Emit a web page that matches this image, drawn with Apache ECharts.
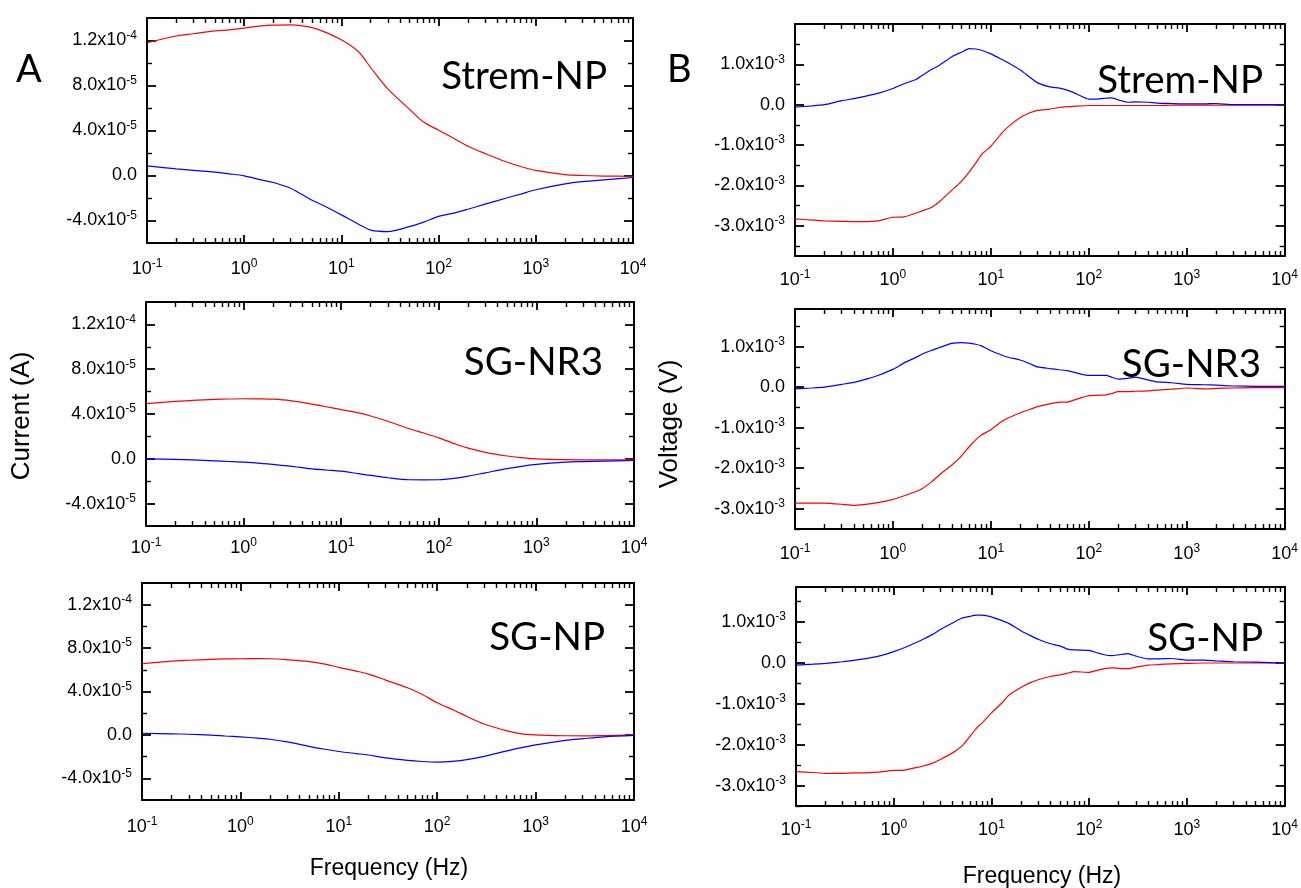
<!DOCTYPE html>
<html><head><meta charset="utf-8">
<script src="https://cdn.jsdelivr.net/npm/echarts@6/dist/echarts.min.js"></script>
<style>html,body{margin:0;padding:0;background:#fff;}#c{width:1301px;height:888px;}</style>
</head><body><div id="c"></div>
<script>
// ---------- DATA ----------
// Frequency (Hz) grid for panel A (current)
const freqA = [0.1,0.2,0.3,0.5,0.7,1,1.5,2,3,5,7,10,15,20,30,50,70,100,150,200,300,500,700,1000,2000,3000,5000,10000];
// Current values in units of 1e-5 A
const a1Red  = [11.8,12.4,12.6,12.85,12.95,13.1,13.3,13.37,13.39,13.15,12.7,12.06,11.0,9.6,7.7,5.9,4.75,4.03,3.2,2.6,1.95,1.2,0.8,0.45,0.08,0.0,-0.05,-0.07];
const a1Blue = [0.86,0.59,0.45,0.3,0.15,-0.03,-0.39,-0.62,-1.13,-2.2,-2.8,-3.5,-4.33,-4.85,-4.98,-4.55,-4.15,-3.64,-3.3,-3.0,-2.55,-2.0,-1.65,-1.27,-0.75,-0.55,-0.39,-0.18];
const a2Red  = [4.92,5.12,5.22,5.3,5.34,5.36,5.35,5.32,5.19,4.88,4.65,4.39,4.1,3.82,3.35,2.68,2.3,1.87,1.3,0.95,0.58,0.25,0.1,0,-0.08,-0.09,-0.09,-0.09];
const a2Blue = [0,-0.05,-0.1,-0.18,-0.24,-0.3,-0.4,-0.5,-0.65,-0.9,-1.0,-1.1,-1.33,-1.48,-1.69,-1.87,-1.88,-1.87,-1.72,-1.55,-1.25,-0.88,-0.68,-0.5,-0.3,-0.25,-0.2,-0.15];
const a3Red  = [6.56,6.8,6.88,6.96,7.0,7.02,7.03,7.02,6.92,6.75,6.55,6.23,5.88,5.6,5.05,4.35,3.75,2.96,2.25,1.7,1.0,0.4,0.12,0,-0.08,-0.09,-0.06,0];
const a3Blue = [0.15,0.1,0.06,-0.02,-0.1,-0.18,-0.3,-0.4,-0.65,-1.05,-1.3,-1.53,-1.72,-1.85,-2.12,-2.35,-2.45,-2.5,-2.42,-2.28,-1.98,-1.5,-1.2,-0.92,-0.5,-0.35,-0.18,-0.05];

// Frequency (Hz) grid for panel B (voltage)
const freqB = [0.1,0.15,0.2,0.3,0.4,0.5,0.7,1,1.3,1.7,2,2.5,3,4,5,6,7,8,10,13,15,20,25,30,40,50,60,70,100,120,150,170,200,250,300,400,500,700,1000,1500,2000,3000,5000,10000];
// Voltage values in units of 1e-3 V
const b1Blue = [-0.06,-0.03,0.0,0.1,0.15,0.2,0.28,0.4,0.52,0.62,0.73,0.88,0.98,1.19,1.3,1.39,1.38,1.35,1.26,1.12,1.04,0.86,0.68,0.54,0.44,0.41,0.36,0.3,0.14,0.14,0.16,0.17,0.12,0.06,0.07,0.06,0.04,0.03,0.02,0.02,0.03,0.0,0.0,0.0];
const b1Red  = [-2.83,-2.86,-2.88,-2.89,-2.9,-2.9,-2.88,-2.79,-2.78,-2.69,-2.63,-2.54,-2.4,-2.12,-1.9,-1.67,-1.45,-1.24,-1.03,-0.7,-0.55,-0.32,-0.2,-0.14,-0.11,-0.07,-0.05,-0.04,-0.02,-0.02,-0.02,-0.02,-0.02,-0.02,-0.02,-0.02,-0.02,-0.01,-0.01,-0.01,-0.01,-0.01,-0.01,-0.01];
const b2Blue = [-0.04,-0.02,0.0,0.07,0.12,0.18,0.29,0.44,0.6,0.73,0.82,0.91,0.98,1.08,1.1,1.09,1.06,1.02,0.9,0.79,0.74,0.67,0.58,0.5,0.46,0.43,0.41,0.37,0.29,0.29,0.29,0.25,0.2,0.22,0.25,0.18,0.13,0.11,0.07,0.06,0.05,0.03,0.02,0.02];
const b2Red  = [-2.86,-2.86,-2.86,-2.89,-2.92,-2.9,-2.85,-2.77,-2.68,-2.58,-2.5,-2.33,-2.16,-1.92,-1.7,-1.47,-1.3,-1.18,-1.05,-0.84,-0.76,-0.63,-0.55,-0.48,-0.41,-0.37,-0.37,-0.32,-0.21,-0.2,-0.19,-0.16,-0.11,-0.11,-0.1,-0.09,-0.07,-0.05,-0.02,-0.04,-0.03,-0.02,-0.01,-0.01];
const b3Blue = [-0.05,-0.03,-0.01,0.03,0.07,0.1,0.17,0.28,0.38,0.5,0.58,0.7,0.82,0.98,1.1,1.14,1.17,1.17,1.13,1.03,0.97,0.79,0.67,0.58,0.47,0.42,0.34,0.32,0.31,0.25,0.19,0.18,0.2,0.23,0.17,0.1,0.1,0.11,0.07,0.07,0.05,0.03,0.02,0.0];
const b3Red  = [-2.66,-2.68,-2.7,-2.7,-2.69,-2.69,-2.67,-2.63,-2.62,-2.56,-2.52,-2.45,-2.36,-2.2,-2.03,-1.8,-1.6,-1.47,-1.22,-0.96,-0.79,-0.6,-0.48,-0.41,-0.33,-0.29,-0.25,-0.21,-0.23,-0.18,-0.13,-0.12,-0.13,-0.14,-0.1,-0.05,-0.04,-0.02,-0.01,0,0,0,0,0];

// Tick values
const xMajorTicks = [0.1,1,10,100,1000,10000];
const yMajorA = [-4e-5,0,4e-5,8e-5,1.2e-4];
const yMinorA = [-2e-5,2e-5,6e-5,1e-4];
const yMajorB = [-3e-3,-2e-3,-1e-3,0,1e-3];
const yMinorB = [-3.5e-3,-2.5e-3,-1.5e-3,-0.5e-3,0.5e-3,1.5e-3];
const titles = ['Strem-NP','SG-NR3','SG-NP','Strem-NP','SG-NR3','SG-NP'];

// minor log ticks (2..9 of each decade)
const xMinorTicks = [];
xMajorTicks.slice(0,-1).forEach(d => { for (let k = 2; k <= 9; k++) xMinorTicks.push(+(d*k).toPrecision(3)); });

// ---------- LAYOUT ----------
const panels = [
  {grid:{left:147,top:18,width:486,height:225}, f:freqA, red:a1Red, blue:a1Blue, unit:1e-5, min:-6e-5, max:1.4e-4, maj:yMajorA, mnr:yMinorA, xm:15, tx:607, ty:77, smooth:0.3},
  {grid:{left:146,top:302,width:488,height:224}, f:freqA, red:a2Red, blue:a2Blue, unit:1e-5, min:-6e-5, max:1.4e-4, maj:yMajorA, mnr:yMinorA, xm:11, tx:603, ty:363, smooth:0.3},
  {grid:{left:142,top:583,width:492,height:217}, f:freqA, red:a3Red, blue:a3Blue, unit:1e-5, min:-6e-5, max:1.4e-4, maj:yMajorA, mnr:yMinorA, xm:16, tx:605, ty:638, smooth:0.3},
  {grid:{left:795,top:24,width:495,height:232}, f:freqB, red:b1Red, blue:b1Blue, unit:1e-3, min:-3.75e-3, max:2e-3, maj:yMajorB, mnr:yMinorB, xm:13, tx:1263, ty:81, smooth:0.15},
  {grid:{left:795,top:309,width:493,height:220}, f:freqB, red:b2Red, blue:b2Blue, unit:1e-3, min:-3.5e-3, max:1.93e-3, maj:yMajorB, mnr:yMinorB, xm:14, tx:1261, ty:365, smooth:0.15},
  {grid:{left:796,top:587,width:492,height:219}, f:freqB, red:b3Red, blue:b3Blue, unit:1e-3, min:-3.5e-3, max:1.86e-3, maj:yMajorB, mnr:yMinorB, xm:13, tx:1263, ty:639, smooth:0.15}
];

const FONT = 'Liberation Sans, Arial, sans-serif';
const rich = {
  b: {fontFamily: FONT, fontSize: 18, color: '#000', lineHeight: 22},
  s: {fontFamily: FONT, fontSize: 12, color: '#000', lineHeight: 12, verticalAlign: 'top'}
};
const xFmt = v => '{b|10}{s|' + Math.round(Math.log10(v)) + '}';
const yFmt = v => {
  if (Math.abs(v) < 1e-12) return '{b|0.0}';
  const e = Math.floor(Math.log10(Math.abs(v)) + 1e-9);
  const m = (v / Math.pow(10, e)).toFixed(1);
  return '{b|' + m + 'x10}{s|' + e + '}';
};

const grids = [], xAxes = [], yAxes = [], series = [];
panels.forEach((p, i) => {
  grids.push(p.grid);
  const xi = xAxes.length, yi = yAxes.length;
  const xb = (pos, ticks, len, line, label) => ({
    type: 'log', logBase: 10, gridIndex: i, min: 0.1, max: 10000, position: pos,
    axisLine: {show: line, onZero: false, lineStyle: {color: '#000', width: 2}},
    axisTick: {show: true, inside: true, length: len, customValues: ticks, lineStyle: {color: '#000', width: len > 6 ? 1.8 : 1.4}},
    axisLabel: label ? {show: true, customValues: xMajorTicks, formatter: xFmt, rich: rich, margin: p.xm, hideOverlap: false} : {show: false},
    splitLine: {show: false}, minorTick: {show: false}
  });
  xAxes.push(xb('bottom', xMajorTicks, 8, true, true));
  xAxes.push(xb('bottom', xMinorTicks, 5, false, false));
  xAxes.push(xb('top', xMajorTicks, 8, true, false));
  xAxes.push(xb('top', xMinorTicks, 5, false, false));
  const yb = (pos, ticks, len, line, label) => ({
    type: 'value', gridIndex: i, min: p.min, max: p.max, position: pos,
    axisLine: {show: line, onZero: false, lineStyle: {color: '#000', width: 2}},
    axisTick: {show: true, inside: true, length: len, customValues: ticks, lineStyle: {color: '#000', width: len > 6 ? 1.8 : 1.4}},
    axisLabel: label ? {show: true, customValues: p.maj, formatter: yFmt, rich: rich, margin: 10, hideOverlap: false} : {show: false},
    splitLine: {show: false}
  });
  yAxes.push(yb('left', p.maj, 9, true, true));
  yAxes.push(yb('left', p.mnr, 5, false, false));
  yAxes.push(yb('right', p.maj, 9, true, false));
  yAxes.push(yb('right', p.mnr, 5, false, false));
  [['red', '#ff0000'], ['blue', '#0000ff']].forEach(([k, c]) => {
    series.push({
      type: 'line', xAxisIndex: xi, yAxisIndex: yi, showSymbol: false, symbol: 'none',
      smooth: p.smooth, clip: true, animation: false,
      lineStyle: {color: c, width: 1.2}, itemStyle: {color: c},
      data: p.f.map((f, j) => [f, p[k][j] * p.unit])
    });
  });
});

const textEls = [
  {t: 'A', x: 16, y: 70, font: '38px Lato, sans-serif', align: 'left'},
  {t: 'B', x: 667, y: 70, font: '38px Lato, sans-serif', align: 'left'},
  {t: 'Current (A)', x: 22, y: 416, font: '26px ' + FONT, align: 'center', rot: Math.PI / 2},
  {t: 'Voltage (V)', x: 670, y: 424, font: '26px ' + FONT, align: 'center', rot: Math.PI / 2},
  {t: 'Frequency (Hz)', x: 389, y: 869, font: '23px ' + FONT, align: 'center'},
  {t: 'Frequency (Hz)', x: 1042, y: 877, font: '23px ' + FONT, align: 'center'}
];
panels.forEach((p, i) => textEls.push({t: titles[i], x: p.tx, y: p.ty, font: '38.5px Lato, sans-serif', align: 'right'}));

const chart = echarts.init(document.getElementById('c'), null, {renderer: 'canvas'});
chart.setOption({
  animation: false,
  backgroundColor: '#fff',
  grid: grids,
  xAxis: xAxes,
  yAxis: yAxes,
  series: series,
  graphic: textEls.map(o => ({
    type: 'text', x: o.x, y: o.y, rotation: o.rot || 0, z: 100,
    style: {text: o.t, font: o.font, fill: '#000', textAlign: o.align, textVerticalAlign: 'middle', align: o.align, verticalAlign: 'middle'}
  }))
});
</script>
</body></html>
